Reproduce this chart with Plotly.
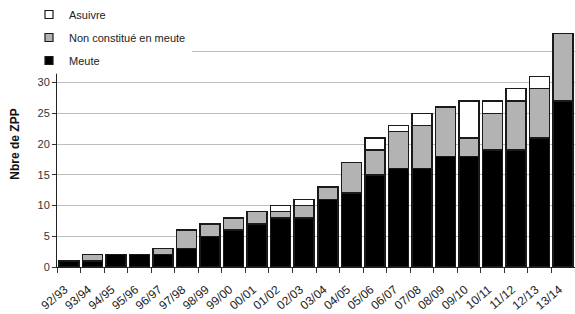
import plotly.graph_objects as go

seasons = ["92/93", "93/94", "94/95", "95/96", "96/97", "97/98", "98/99", "99/00",
           "00/01", "01/02", "02/03", "03/04", "04/05", "05/06", "06/07", "07/08",
           "08/09", "09/10", "10/11", "11/12", "12/13", "13/14"]
meute = [1, 1, 2, 2, 2, 3, 5, 6, 7, 8, 8, 11, 12, 15, 16, 16, 18, 18, 19, 19, 21, 27]
non_constitue = [0, 1, 0, 0, 1, 3, 2, 2, 2, 1, 2, 2, 5, 4, 6, 7, 8, 3, 6, 8, 8, 11]
asuivre = [0, 0, 0, 0, 0, 0, 0, 0, 0, 1, 1, 0, 0, 2, 1, 2, 0, 6, 2, 2, 2, 0]

series = [
    ("Meute", meute, "#000000"),
    ("Non constitué en meute", non_constitue, "#b3b3b3"),
    ("Asuivre", asuivre, "#ffffff"),
]

fig = go.Figure()
for name, vals, col in series:
    fig.add_trace(go.Bar(
        x=seasons, y=vals, name=name, showlegend=False,
        marker=dict(color=col, line=dict(color="#1a1a1a", width=1.5)),
    ))
for name, vals, col in reversed(series):
    fig.add_trace(go.Scatter(
        x=[None], y=[None], mode="markers", name=name, legendgroup=name,
        marker=dict(symbol="square", size=8, color=col, line=dict(color="#1a1a1a", width=1.2)),
    ))

L, R, T, B = 57, 0, 20, 47
W, H = 575, 314
pw, ph = W - L - R, H - T - B

fig.add_shape(type="rect", xref="paper", yref="paper",
              x0=-0.2, x1=(192 - L) / pw, y0=(267 - 73) / ph, y1=1.2,
              fillcolor="white", line=dict(width=0), layer="above")

fig.update_layout(
    width=W, height=H,
    margin=dict(l=L, r=R, t=T, b=B),
    barmode="stack", bargap=0.15,
    plot_bgcolor="white", paper_bgcolor="white",
    font=dict(family="Liberation Sans, Arial, sans-serif", size=11, color="#222222"),
    showlegend=True,
    legend=dict(x=(29 - L) / pw, y=1 + (T + 1) / ph, xanchor="left", yanchor="top",
                traceorder="grouped", tracegroupgap=4,
                bgcolor="rgba(0,0,0,0)", font=dict(size=11, color="#222222"),
                itemwidth=30),
    xaxis=dict(type="category", tickangle=-40, tickson="boundaries",
               ticks="outside", ticklen=5, tickcolor="#333", showline=True,
               linecolor="#222", linewidth=1, showgrid=False,
               ticklabelstandoff=10, ticklabelshift=-4,
               tickfont=dict(size=12, color="#222")),
    yaxis=dict(range=[0, 40], dtick=5, ticks="outside", ticklen=4, tickcolor="#333",
               showline=True, linecolor="#222", linewidth=1,
               showgrid=True, gridcolor="#bdbdbd", gridwidth=1, zeroline=False,
               tickfont=dict(size=11, color="#333"),
               title=dict(text="<b>Nbre de ZPP</b>", font=dict(size=12, color="#111"),
                          standoff=15)),
)

fig.write_html("out.html", config={"displayModeBar": False},
               post_script="document.body.style.margin='0';document.body.style.overflow='hidden';")
